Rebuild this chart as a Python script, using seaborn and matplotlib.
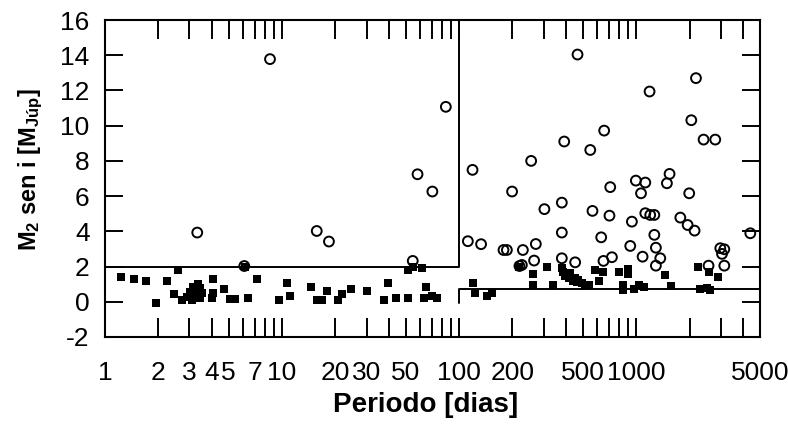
import numpy as np
import pandas as pd
import seaborn as sns
import matplotlib.pyplot as plt
from matplotlib.ticker import FixedLocator, FixedFormatter, NullLocator

# planetas com M2 sen i pequena (quadrados cheios)
per_quad = [1.23, 1.46, 1.70, 1.94, 2.25, 2.59, 2.45,
            2.71, 2.89, 3.02, 3.15, 3.34, 3.44, 3.52, 3.30, 3.09, 3.44, 3.22,
            4.09, 4.09, 4.01, 4.72, 5.08, 5.42, 6.45, 7.25, 9.61, 6.2,
            10.7, 11.1, 14.5, 15.7, 16.8, 18.0, 20.8, 21.9, 24.5, 30.1, 39.9, 37.8,
            43.9, 51.7, 51.7, 55.2, 61.5, 65.1, 63.4, 70.6, 74.8,
            119, 123, 143, 153, 219, 261, 261, 313, 338,
            380, 388, 405, 423, 433, 452, 472, 493, 515, 538, 398, 415, 440, 460,
            587, 653, 618,
            802, 893, 893, 841, 841, 966, 1031, 1099, 1459, 1577, 2232, 2300, 2509,
            2593, 2584, 2879]
m_quad = [1.43, 1.30, 1.20, -0.05, 1.20, 1.81, 0.44,
          0.10, 0.29, 0.57, 0.86, 0.99, 0.77, 0.48, 0.29, 0.10, 0.20, 0.57,
          1.30, 0.48, 0.20, 0.71, 0.14, 0.14, 0.20, 1.30, 0.10, 1.95,
          1.05, 0.33, 0.82, 0.10, 0.10, 0.61, 0.10, 0.44, 0.73, 0.61, 1.09, 0.10,
          0.23, 0.23, 1.81, 1.96, 1.90, 0.82, 0.23, 0.35, 0.23,
          1.09, 0.48, 0.33, 0.52, 1.98, 1.56, 0.95, 1.96, 0.95,
          1.90, 1.71, 1.52, 1.62, 1.37, 1.34, 1.24, 1.09, 0.95, 0.95, 1.45, 1.35, 1.20, 1.15,
          1.81, 1.68, 1.18,
          1.71, 1.85, 1.58, 0.95, 0.67, 0.71, 0.95, 0.86, 1.52, 0.90, 1.96, 0.71, 0.77,
          0.67, 1.71, 1.43]

# planetas mais massivos (circulos abertos)
per_circ = [3.32, 6.12, 8.55, 15.7, 18.4, 54.7, 58.2, 70.6, 84.1,
            466, 2174, 1189, 2046, 659, 392, 2400, 2793, 550,
            119, 255, 199, 713, 303, 380, 566, 706, 380, 634,
            112, 133, 178, 186, 229, 271, 265, 226, 219, 380, 452, 653, 729,
            995, 1125, 1064, 1542, 1490, 1991, 945, 1125, 1199, 1265, 1774, 1951, 2135,
            1265, 925, 1291, 1086, 1367, 1291, 2983, 3143, 3050, 2560, 3143, 4406]
m_circ = [3.93, 2.03, 13.78, 4.02, 3.42, 2.32, 7.24, 6.26, 11.07,
          14.04, 12.70, 11.94, 10.31, 9.72, 9.10, 9.21, 9.21, 8.62,
          7.49, 8.00, 6.26, 6.51, 5.26, 5.63, 5.16, 4.89, 3.93, 3.66,
          3.44, 3.27, 2.94, 2.94, 2.94, 3.28, 2.34, 2.09, 2.03, 2.47, 2.24, 2.32, 2.53,
          6.88, 6.77, 6.16, 7.26, 6.73, 6.16, 4.55, 5.03, 4.93, 4.93, 4.78, 4.36, 4.04,
          3.80, 3.17, 3.07, 2.56, 2.47, 2.05, 3.04, 2.98, 2.72, 2.05, 2.05, 3.89]

# linhas de limite
lim1_x = [1, 100, 100]
lim1_y = [2, 2, 16]
lim2_x = [100, 100, 5000]
lim2_y = [-0.05, 0.72, 0.72]

xticks = [1, 2, 3, 4, 5, 6, 7, 8, 9, 10, 20, 30, 40, 50, 60, 70, 80, 90, 100,
          200, 300, 400, 500, 600, 700, 800, 900, 1000, 2000, 3000, 4000, 5000]
xlabels = ['1', '2', '3', '4', '5', '', '7', '', '', '10', '20', '30', '', '50', '', '', '', '',
           '100', '200', '', '', '500', '', '', '', '', '1000', '', '', '', '5000']
yticks = [-2, 0, 2, 4, 6, 8, 10, 12, 14, 16]

sns.set_theme(style="white")
plt.rcParams['font.family'] = ['Liberation Sans', 'DejaVu Sans']
plt.rcParams['mathtext.default'] = 'regular'
plt.rcParams['text.color'] = 'black'
plt.rcParams['axes.labelcolor'] = 'black'

df_q = pd.DataFrame({'periodo': per_quad, 'massa': m_quad})
df_c = pd.DataFrame({'periodo': per_circ, 'massa': m_circ})

fig, ax = plt.subplots(figsize=(7.88, 4.25), dpi=100)
fig.subplots_adjust(left=0.1332, right=0.9645, top=0.9529, bottom=0.2071)

ax.plot(lim1_x, lim1_y, color='black', lw=1.4)
ax.plot(lim2_x, lim2_y, color='black', lw=1.4)
sns.scatterplot(data=df_q, x='periodo', y='massa', marker='s', color='black',
                s=28, linewidth=0, ax=ax)
sns.scatterplot(data=df_c, x='periodo', y='massa', marker='o', facecolors='none',
                edgecolor='black', s=50, linewidth=1.4, ax=ax)

ax.set_xscale('log')
ax.set_xlim(1, 5000)
ax.set_ylim(-2, 16)
ax.xaxis.set_major_locator(FixedLocator(xticks))
ax.xaxis.set_major_formatter(FixedFormatter(xlabels))
ax.xaxis.set_minor_locator(NullLocator())
ax.set_yticks(yticks)
ax.set_yticklabels([str(v) for v in yticks])

ax.tick_params(axis='x', which='both', direction='in', length=14, width=1.4,
               top=True, bottom=True, labelsize=19, pad=17, colors='black')
ax.tick_params(axis='y', direction='in', length=13, width=1.4, left=True,
               right=True, labelsize=19, pad=11, colors='black')
for sp in ax.spines.values():
    sp.set_color('black')
    sp.set_linewidth(1.5)

ax.set_xlabel('Periodo [dias]', fontsize=20, fontweight='bold', color='black')
ax.set_ylabel(r'M$_2$ sen i [M$_{Júp}$]', fontsize=17, fontweight='bold', color='black')
ax.xaxis.set_label_coords(0.49, -0.175)
ax.yaxis.set_label_coords(-0.092, 0.53)

plt.savefig('out.png', dpi=100)
